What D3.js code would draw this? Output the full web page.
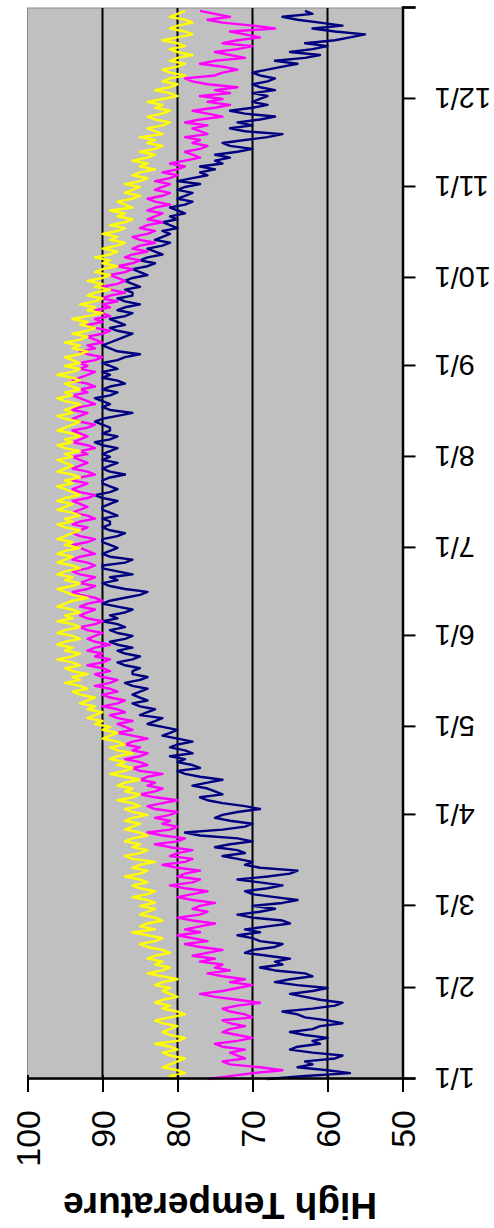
<!DOCTYPE html>
<html>
<head>
<meta charset="utf-8">
<script src="https://cdn.jsdelivr.net/npm/d3@7"></script>
<style>
  body { margin: 0; background: #fff; }
  text { font-family: "Liberation Sans", Arial, sans-serif; }
</style>
</head>
<body>
<script>
// daily high temperatures, one value per day from 1/1 to 12/31
var navyHigh = [
  68, 63, 57, 60, 64, 62, 63, 59, 58, 62, 65, 64, 61, 62, 60, 63, 65, 62, 61, 58, 60, 63, 64, 66, 62, 59, 58, 61, 63, 65, 62,
  60, 64, 67, 65, 62, 63, 67, 69, 66, 67, 65, 68, 71, 70, 67, 66, 69, 70, 72, 69, 71, 68, 65, 66, 70, 72, 69, 67,
  70, 66, 64, 67, 70, 71, 68, 66, 69, 72, 68, 65, 64, 69, 71, 70, 72, 74, 71, 72, 75, 73, 70, 72, 77, 79, 74, 71, 70, 73, 75,
  74, 72, 69, 71, 74, 76, 77, 74, 75, 76, 78, 76, 74, 77, 79, 80, 77, 78, 80, 79, 81, 78, 79, 81, 80, 78, 80, 82, 81, 80,
  82, 84, 83, 82, 85, 84, 83, 85, 86, 84, 85, 86, 85, 84, 86, 87, 85, 84, 86, 86, 85, 87, 88, 86, 85, 87, 88, 86, 88, 89, 87,
  86, 88, 89, 87, 88, 90, 88, 89, 87, 86, 88, 90, 89, 87, 85, 84, 87, 89, 90, 88, 89, 86, 88, 90, 90, 87, 86, 89, 90, 89,
  88, 89, 90, 90, 88, 87, 89, 90, 89, 89, 90, 88, 89, 90, 90, 89, 88, 90, 91, 89, 88, 89, 90, 90, 89, 87, 89, 90, 89, 88, 90,
  89, 90, 89, 88, 90, 91, 89, 88, 90, 89, 89, 90, 91, 90, 88, 86, 89, 90, 89, 90, 91, 89, 88, 90, 89, 87, 88, 90, 89, 90, 88,
  89, 90, 88, 87, 85, 88, 89, 90, 89, 88, 87, 86, 88, 89, 87, 88, 89, 87, 86, 88, 87, 85, 87, 88, 86, 86, 87, 85, 86, 87,
  86, 84, 85, 86, 84, 83, 85, 84, 82, 83, 84, 82, 81, 83, 82, 81, 82, 80, 81, 82, 80, 81, 79, 80, 81, 79, 78, 80, 79, 78, 80,
  79, 77, 80, 78, 76, 77, 75, 77, 74, 75, 73, 75, 72, 70, 73, 74, 71, 68, 66, 71, 73, 70, 72, 69, 67, 71, 73, 70, 68, 70,
  69, 68, 70, 67, 69, 70, 68, 67, 69, 70, 68, 66, 64, 67, 63, 61, 65, 62, 60, 63, 59, 57, 55, 59, 62, 58, 61, 64, 66, 62, 63
];
var magentaHigh = [
  76, 73, 70, 66, 69, 73, 74, 71, 72, 73, 71, 74, 75, 72, 70, 72, 74, 73, 71, 73, 74, 70, 71, 73, 74, 72, 69, 72, 75, 77, 74,
  72, 70, 73, 71, 74, 76, 73, 75, 74, 77, 75, 78, 76, 74, 77, 79, 76, 78, 80, 77, 79, 77, 75, 78, 80, 77, 76, 78,
  77, 75, 78, 80, 78, 76, 79, 81, 78, 77, 80, 79, 77, 80, 82, 79, 78, 81, 80, 78, 81, 83, 80, 79, 82, 84, 81, 80, 82, 81, 83,
  81, 80, 83, 84, 82, 80, 83, 85, 83, 82, 84, 83, 85, 84, 82, 85, 86, 84, 85, 87, 85, 84, 86, 85, 87, 86, 84, 86, 88, 86,
  87, 88, 86, 88, 89, 87, 88, 90, 88, 87, 89, 90, 88, 89, 91, 89, 88, 90, 91, 89, 90, 92, 90, 89, 91, 90, 92, 91, 89, 91, 92,
  91, 90, 92, 93, 91, 90, 92, 93, 92, 91, 93, 92, 90, 91, 93, 94, 92, 91, 93, 92, 91, 93, 94, 92, 91, 92, 94, 93, 91, 92,
  93, 94, 92, 91, 93, 94, 93, 92, 94, 93, 91, 92, 94, 93, 92, 93, 94, 92, 91, 93, 94, 93, 92, 94, 93, 91, 92, 94, 93, 92, 93,
  94, 92, 93, 91, 92, 94, 93, 92, 93, 94, 92, 91, 93, 94, 93, 92, 94, 93, 91, 92, 93, 94, 92, 93, 91, 92, 94, 93, 92, 91, 93,
  92, 93, 91, 90, 92, 93, 91, 92, 90, 91, 92, 90, 89, 91, 92, 90, 91, 89, 90, 91, 89, 90, 88, 90, 89, 87, 89, 90, 88, 87,
  88, 89, 87, 86, 88, 86, 85, 87, 86, 84, 86, 85, 83, 85, 86, 84, 83, 85, 84, 82, 84, 83, 82, 84, 83, 81, 83, 84, 82, 81, 83,
  82, 81, 83, 81, 80, 82, 80, 79, 81, 79, 77, 78, 79, 77, 76, 78, 77, 79, 76, 77, 78, 76, 79, 77, 74, 76, 78, 75, 73, 76,
  74, 77, 73, 75, 72, 76, 78, 79, 75, 74, 72, 74, 77, 75, 71, 73, 75, 72, 70, 74, 72, 69, 71, 73, 67, 70, 74, 76, 73, 75, 77
];
var yellowHigh = [
  80, 81, 79, 80, 82, 81, 80, 79, 81, 82, 80, 81, 83, 80, 79, 81, 82, 81, 80, 82, 83, 81, 79, 80, 82, 81, 83, 82, 80, 81, 82,
  81, 83, 82, 80, 82, 84, 82, 81, 83, 82, 84, 83, 81, 82, 84, 85, 83, 82, 84, 86, 83, 85, 84, 82, 83, 85, 84, 83,
  85, 83, 84, 86, 84, 83, 85, 86, 84, 85, 87, 85, 84, 86, 85, 83, 86, 87, 85, 84, 86, 85, 87, 86, 84, 85, 87, 86, 85, 87, 86,
  84, 86, 87, 85, 86, 88, 86, 85, 87, 86, 88, 87, 85, 87, 89, 87, 86, 88, 87, 89, 88, 86, 88, 89, 87, 88, 90, 89, 88, 90,
  89, 91, 90, 92, 91, 90, 92, 91, 93, 92, 91, 93, 94, 92, 93, 95, 93, 94, 92, 94, 95, 93, 94, 96, 94, 93, 95, 94, 96, 95, 93,
  94, 96, 95, 93, 94, 96, 94, 95, 93, 94, 96, 95, 94, 92, 94, 95, 96, 94, 93, 95, 94, 96, 95, 93, 94, 96, 95, 94, 96, 95,
  93, 95, 94, 96, 95, 94, 93, 95, 96, 94, 95, 93, 94, 96, 95, 94, 96, 95, 93, 94, 95, 96, 94, 95, 93, 94, 96, 95, 94, 95, 96,
  94, 95, 93, 95, 96, 94, 95, 93, 94, 96, 95, 94, 93, 95, 96, 94, 95, 94, 93, 95, 96, 94, 95, 93, 94, 95, 93, 94, 96, 94, 93,
  95, 93, 94, 95, 93, 92, 94, 93, 95, 93, 92, 94, 92, 91, 93, 92, 94, 92, 90, 92, 91, 93, 91, 90, 92, 91, 89, 91, 90, 92,
  90, 89, 91, 90, 88, 90, 89, 91, 89, 88, 90, 88, 87, 89, 88, 90, 88, 87, 89, 87, 86, 88, 87, 89, 86, 87, 88, 86, 85, 87, 86,
  85, 87, 85, 84, 86, 85, 83, 85, 84, 86, 84, 83, 85, 83, 82, 84, 83, 85, 82, 83, 84, 82, 81, 83, 84, 82, 81, 83, 82, 84,
  82, 80, 81, 83, 81, 80, 82, 81, 79, 81, 82, 80, 79, 81, 80, 78, 80, 81, 79, 80, 82, 80, 78, 79, 81, 80, 78, 79, 81, 80, 79
];
var monthLabels = ["1/1", "2/1", "3/1", "4/1", "5/1", "6/1", "7/1", "8/1", "9/1", "10/1", "11/1", "12/1"];
var tempTicks = [50, 60, 70, 80, 90, 100];
var axisTitle = "High Temperature";

var svgWidth = 494;
var svgHeight = 1228;

// chart is laid out normally (1228 wide, 494 tall) and then turned a quarter turn
var chartW = svgHeight;
var margin = { left: 149, right: 8, top: 27.5, bottom: 91.5 };

var year = 2003;
var days = d3.timeDay.range(new Date(year, 0, 1), new Date(year + 1, 0, 1));
var monthStarts = d3.timeMonth.range(new Date(year, 0, 1), new Date(year + 1, 0, 1));

var svg = d3.select("body")
        .append("svg")
        .attr("width", svgWidth)
        .attr("height", svgHeight);

var g = svg.append("g")
        .attr("transform", "translate(0," + svgHeight + ") rotate(-90)");

var xScale = d3.scaleTime()
        .domain([new Date(year, 0, 1), new Date(year + 1, 0, 1)])
        .range([margin.left, chartW - margin.right]);

var yScale = d3.scaleLinear()
        .domain([50, 100])
        .range([svgWidth - margin.bottom, margin.top]);

// plot area
g.append("rect")
        .attr("x", xScale.range()[0])
        .attr("y", yScale(100))
        .attr("width", xScale.range()[1] - xScale.range()[0])
        .attr("height", yScale(50) - yScale(100))
        .attr("fill", "#c0c0c0")
        .attr("stroke", "#8c8c8c")
        .attr("stroke-width", 1);

// gridlines
g.selectAll("line.grid")
        .data(tempTicks.filter(function (t) { return t > 50 && t < 100; }))
        .enter()
        .append("line")
        .attr("class", "grid")
        .attr("x1", xScale.range()[0])
        .attr("x2", xScale.range()[1])
        .attr("y1", function (d) { return yScale(d); })
        .attr("y2", function (d) { return yScale(d); })
        .attr("stroke", "#000")
        .attr("stroke-width", 2);

var series = [
    { values: navyHigh, color: "#000080" },
    { values: magentaHigh, color: "#ff00ff" },
    { values: yellowHigh, color: "#ffff00" }
];

var line = d3.line()
        .x(function (d, i) { return xScale(days[i]); })
        .y(function (d) { return yScale(d); });

g.selectAll("path.series")
        .data(series)
        .enter()
        .append("path")
        .attr("class", "series")
        .attr("fill", "none")
        .attr("stroke", function (d) { return d.color; })
        .attr("stroke-width", 2.4)
        .attr("stroke-linejoin", "round")
        .attr("d", function (d) { return line(d.values); });

// date axis
var xAxis = d3.axisBottom(xScale)
        .tickValues(monthStarts.concat([xScale.domain()[1]]))
        .tickSize(13)
        .tickFormat(function (d, i) { return i < monthLabels.length ? monthLabels[i] : ""; });

var gx = g.append("g")
        .attr("transform", "translate(0," + yScale(50) + ")")
        .call(xAxis);
gx.select(".domain").attr("stroke", "#000").attr("stroke-width", 2.5);
gx.selectAll(".tick line").attr("stroke", "#000").attr("stroke-width", 2);
gx.selectAll(".tick text")
        .attr("transform", "rotate(-90)")
        .attr("x", -32)
        .attr("y", 0)
        .attr("dy", "0.36em")
        .attr("text-anchor", "end")
        .attr("font-size", 29)
        .attr("fill", "#000");

// temperature axis
var yAxis = d3.axisLeft(yScale)
        .tickValues(tempTicks)
        .tickSize(13)
        .tickSizeOuter(0);

var gy = g.append("g")
        .attr("transform", "translate(" + xScale.range()[0] + ",0)")
        .call(yAxis);
gy.select(".domain").attr("stroke", "#000").attr("stroke-width", 2.5);
gy.selectAll(".tick line").attr("stroke", "#000").attr("stroke-width", 2).attr("x2", -13).attr("x1", 4);
gy.selectAll(".tick text")
        .attr("x", -31)
        .attr("dy", "0.36em")
        .attr("font-size", 34)
        .attr("fill", "#000");

g.append("text")
        .attr("transform", "translate(35," + ((yScale(50) + yScale(100)) / 2 + 5) + ") rotate(-90)")
        .attr("text-anchor", "middle")
        .attr("font-family", "'Liberation Serif', 'Times New Roman', serif")
        .attr("font-size", 37)
        .attr("font-weight", "bold")
        .attr("fill", "#000")
        .text(axisTitle);
</script>
</body>
</html>
